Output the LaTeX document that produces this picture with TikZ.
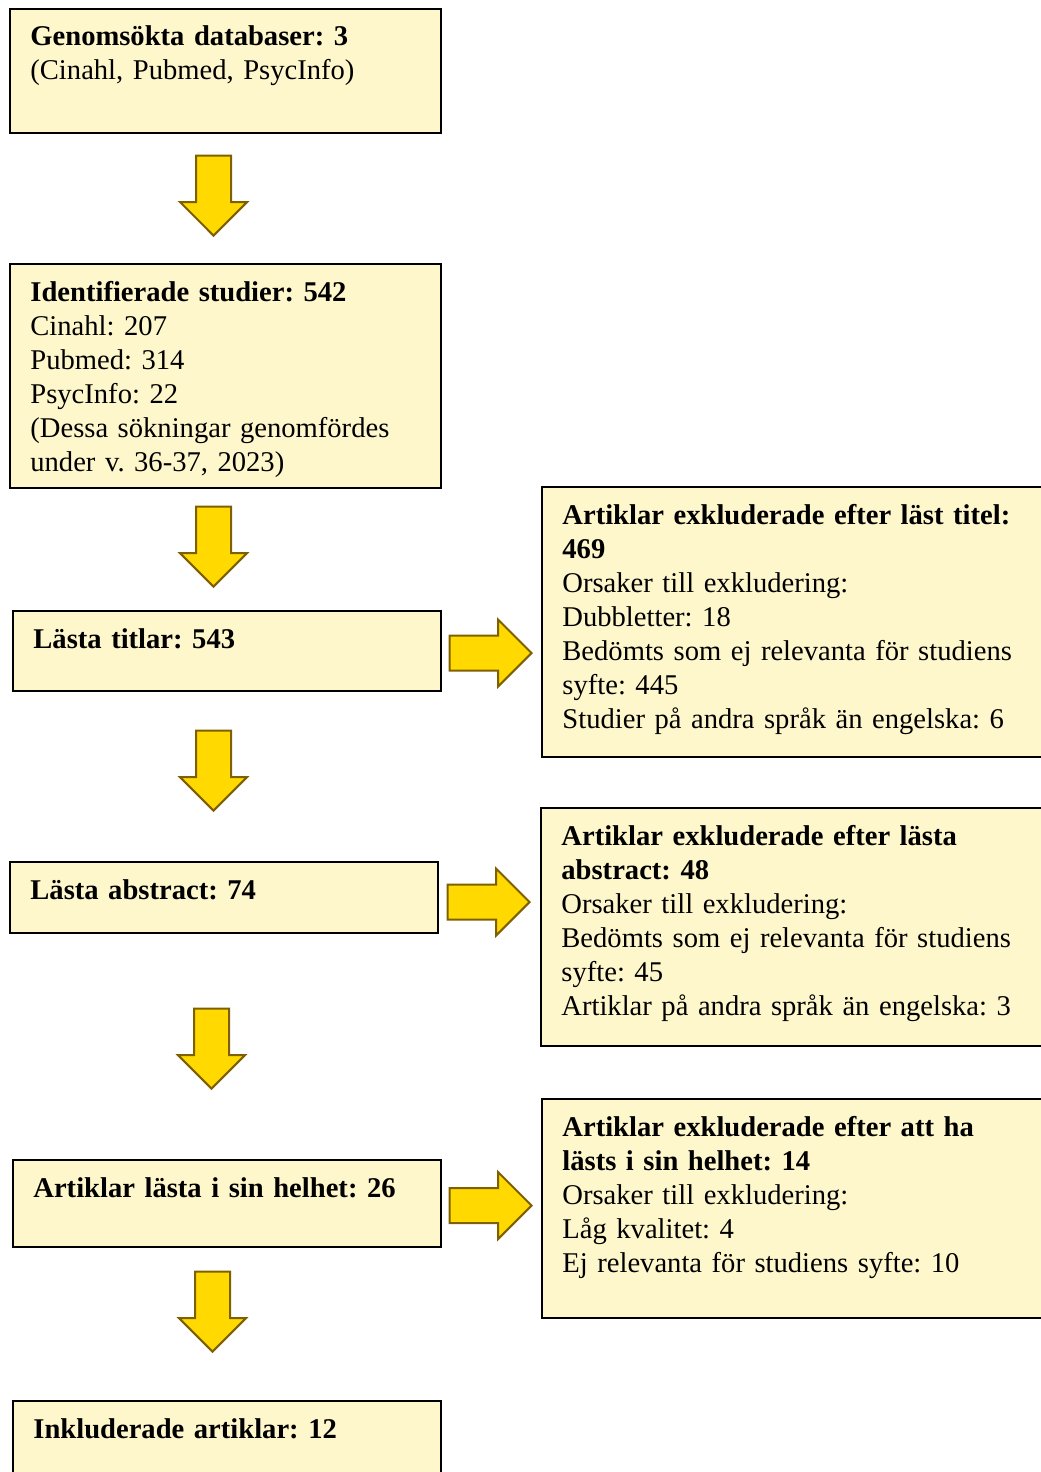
\documentclass[tikz,border=0pt]{standalone}
\usepackage{fontspec}
\setmainfont{Liberation Serif}
\usetikzlibrary{shapes.arrows}
\frenchspacing
\definecolor{boxfill}{RGB}{255,247,204}
\definecolor{arrfill}{RGB}{255,217,0}
\definecolor{arrline}{RGB}{127,96,0}
\tikzset{
  flowbox/.style={draw=black, line width=1.1pt, fill=boxfill, anchor=north west, inner sep=0pt},
  boxtext/.style={anchor=base west, inner sep=0pt, text width=#1, align=left, font=\fontsize{14.3}{17}\selectfont},
  blockarrow/.style={single arrow, draw=arrline, fill=arrfill, line width=1pt, inner sep=8.25pt,
    single arrow head extend=8pt, single arrow head indent=0pt, anchor=tip},
  downarrow/.style={blockarrow, minimum height=40pt, minimum width=32.5pt, shape border rotate=270},
  rightarrow/.style={blockarrow, minimum height=41pt, minimum width=31pt}
}
\begin{document}
\begin{tikzpicture}
  \useasboundingbox (0,0) rectangle (520pt,-736pt);
  % left column
  \node[flowbox, minimum width=215.5pt, minimum height=62pt] (dbs) at (4.5pt,-4pt) {};
  \node[flowbox, minimum width=215.5pt, minimum height=112pt] (found) at (4.5pt,-131.5pt) {};
  \node[flowbox, minimum width=214pt, minimum height=40pt] (titles) at (6pt,-305pt) {};
  \node[flowbox, minimum width=214pt, minimum height=35.5pt] (abstracts) at (4.5pt,-430.5pt) {};
  \node[flowbox, minimum width=214pt, minimum height=43.5pt] (fulltext) at (6pt,-579.5pt) {};
  \node[flowbox, minimum width=214pt, minimum height=50pt] (included) at (6pt,-700pt) {};
  % right column
  \node[flowbox, minimum width=260pt, minimum height=135pt] (exTitles) at (270.5pt,-243pt) {};
  \node[flowbox, minimum width=260pt, minimum height=119pt] (exAbstracts) at (270pt,-403.5pt) {};
  \node[flowbox, minimum width=260pt, minimum height=109.5pt] (exFulltext) at (270.5pt,-549pt) {};

  \node[boxtext=200pt] (dbsT) at ([shift={(10.5pt,-19pt)}]dbs.north west)
    {\textbf{Genomsökta databaser: 3}\\(Cinahl, Pubmed, PsycInfo)};
  \node[boxtext=200pt] (foundT) at ([shift={(10.5pt,-19pt)}]found.north west)
    {\textbf{Identifierade studier: 542}\\Cinahl: 207\\Pubmed: 314\\PsycInfo: 22\\(Dessa sökningar genomfördes\\under v. 36-37, 2023)};
  \node[boxtext=200pt] (titlesT) at ([shift={(10.5pt,-19pt)}]titles.north west)
    {\textbf{Lästa titlar: 543}};
  \node[boxtext=200pt] (abstractsT) at ([shift={(10.5pt,-19pt)}]abstracts.north west)
    {\textbf{Lästa abstract: 74}};
  \node[boxtext=200pt] (fulltextT) at ([shift={(10.5pt,-19pt)}]fulltext.north west)
    {\textbf{Artiklar lästa i sin helhet: 26}};
  \node[boxtext=200pt] (includedT) at ([shift={(10.5pt,-19pt)}]included.north west)
    {\textbf{Inkluderade artiklar: 12}};
  \node[boxtext=240pt] (exTitlesT) at ([shift={(10.5pt,-19pt)}]exTitles.north west)
    {\textbf{Artiklar exkluderade efter läst titel:}\\\textbf{469}\\Orsaker till exkludering:\\Dubbletter: 18\\Bedömts som ej relevanta för studiens\\syfte: 445\\Studier på andra språk än engelska: 6};
  \node[boxtext=240pt] (exAbstractsT) at ([shift={(10.5pt,-19pt)}]exAbstracts.north west)
    {\textbf{Artiklar exkluderade efter lästa}\\\textbf{abstract: 48}\\Orsaker till exkludering:\\Bedömts som ej relevanta för studiens\\syfte: 45\\Artiklar på andra språk än engelska: 3};
  \node[boxtext=240pt] (exFulltextT) at ([shift={(10.5pt,-19pt)}]exFulltext.north west)
    {\textbf{Artiklar exkluderade efter att ha}\\\textbf{lästs i sin helhet: 14}\\Orsaker till exkludering:\\Låg kvalitet: 4\\Ej relevanta för studiens syfte: 10};

  % arrows (placed by their tips)
  \node[downarrow] (a1) at (106.75pt,-118.5pt) {};
  \node[downarrow] (a2) at (106.75pt,-294pt) {};
  \node[downarrow] (a3) at (106.75pt,-406pt) {};
  \node[downarrow] (a4) at (105.75pt,-545pt) {};
  \node[downarrow] (a5) at (106.25pt,-676.5pt) {};
  \node[rightarrow] (r1) at (266.5pt,-326.5pt) {};
  \node[rightarrow] (r2) at (265.5pt,-451pt) {};
  \node[rightarrow] (r3) at (266.5pt,-602.75pt) {};
\end{tikzpicture}
\end{document}
